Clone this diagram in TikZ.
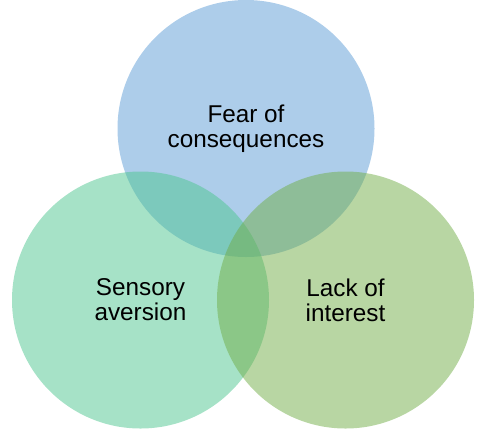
\documentclass[tikz,border=0pt]{standalone}
\usepackage{fontspec}
\setmainfont{Liberation Sans}
\definecolor{cblue}{RGB}{91,155,213}
\definecolor{cteal}{RGB}{77,197,143}
\definecolor{cgreen}{RGB}{113,173,71}
\begin{document}
\begin{tikzpicture}[x=1pt,y=-1pt,
  venn/.style={circle, draw=none, minimum size=257pt, inner sep=0pt,
    fill opacity=0.5, text opacity=1, align=center,
    font=\fontsize{24.3}{25}\selectfont}]
\useasboundingbox (0,0) rectangle (500,429);
\node[venn, fill=cblue]  (fear)    at (246,128.5) {Fear of\\consequences};
\node[venn, fill=cteal]  (sensory) at (140.5,300) {Sensory\\aversion};
\node[venn, fill=cgreen] (lack)    at (345.5,300) {Lack of\\interest};
\end{tikzpicture}
\end{document}
